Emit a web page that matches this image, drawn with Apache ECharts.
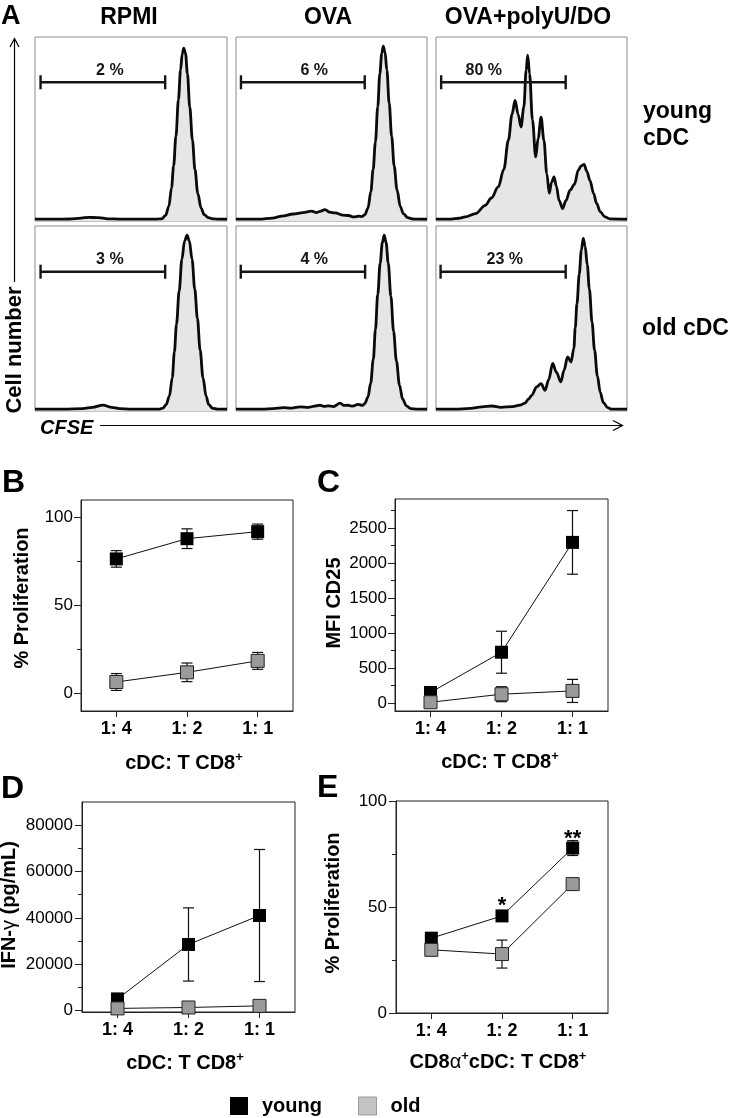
<!DOCTYPE html>
<html><head><meta charset="utf-8">
<script src="https://cdn.jsdelivr.net/npm/echarts@6/dist/echarts.min.js"></script>
<style>html,body{margin:0;padding:0;background:#fff}#c{width:730px;height:1118px}</style>
</head><body><div id="c"></div>
<script>
const FONT = '"Liberation Sans", Arial, Helvetica, sans-serif';

// ---------- Panel A: CFSE histograms (x = CFSE 0-100, y = relative cell number 0-100)
const histYoungRPMI = [[0,1],[10,1],[18,1.1],[24,1.6],[28,2],[33,1.8],[38,1.2],[45,1],[55,1],[63,1],[66,1.2],[68,3],[69.7,8],[71.1,18],[72.2,30],[73.4,46],[74.7,66],[75.8,82],[76.7,91],[77.5,94],[78.4,91],[79.4,80],[80.6,62],[82,44],[83.3,28],[84.8,15],[86.5,7],[88.1,3.5],[90.3,1.8],[92.6,1.2],[95,1],[100,1]];
const histYoungOVA = [[0,1],[12,1],[19,1.6],[24,2.6],[30,3.8],[35,4.6],[39.6,5.4],[42,4.6],[44,5.2],[46.6,6.2],[49,4.8],[52,4.4],[56,3.2],[59,3],[61.5,2.2],[64.5,2.6],[66,2.4],[67.5,3.5],[69.1,7],[70.6,16],[71.8,28],[73,43],[74.2,62],[75.3,80],[76.3,91],[77.1,95],[78,92],[79,82],[80.2,64],[81.5,46],[82.8,30],[84.3,17],[86,8],[87.6,4],[89.9,1.8],[92.7,1.1],[95,1],[100,1]];
const histYoungPolyU = [[0,1],[8,1],[12,1.5],[15.3,2.2],[20.7,4],[25.8,8.5],[29,12.5],[32.6,18.5],[35.5,28],[37.9,43.9],[39.8,58],[41.4,65.6],[43,58],[44.5,51.1],[46,62],[47.2,82],[48,90.1],[49,80],[50.5,55],[52.2,34.8],[53.5,45],[55,56.5],[56.5,44],[58,25.8],[59.3,15.2],[60.5,21],[61.8,23.9],[63,19],[64.5,11],[66.3,6.7],[68,11],[70.2,16.7],[72.5,20],[74.5,27.6],[76,30],[77.5,30.7],[79,27],[80.6,22.1],[82.5,15],[84.1,9.5],[86,5],[88.5,2.2],[91,1.2],[100,1]];
const histOldRPMI = [[0,1],[15,1],[25,1.3],[30,2],[35.4,3.2],[40,2],[44,1.3],[50,1],[60,1],[65,1],[66.7,1.6],[68.3,3.5],[70,8],[71.5,18],[72.6,32],[73.7,47],[75.1,65],[76.5,82],[77.9,92],[79.2,95],[80.4,92],[81.8,82],[83.2,66],[84.6,50],[86,33],[87.5,18],[89.1,8],[90.5,3.5],[92.4,1.5],[95,1],[100,1]];
const histOldOVA = [[0,1],[14,1],[19.4,1.3],[24.9,1.8],[29,1.6],[33.6,2.2],[38,2],[41,2.6],[44,3.1],[46,2.5],[48.4,2.8],[51,2.4],[54.5,4.3],[56.5,3],[58.6,3.1],[61,2.6],[64,3.6],[66.2,3],[67.4,4],[69.1,7.5],[70.5,15],[71.9,28],[73,44],[74.2,63],[75.5,80],[76.6,91],[77.6,95],[78.6,91],[79.7,80],[81.1,62],[82.5,43],[84,27],[85.6,14],[87.2,6.5],[89.2,2.8],[91.5,1.3],[95,1],[100,1]];
const histOldPolyU = [[0,1],[10,1],[18,1.4],[24,2.2],[29.3,2.7],[34,2],[40,2.4],[44,3.2],[46.6,4.3],[48.5,6.5],[50.1,8.5],[52.7,13],[55,14.8],[57.1,11.2],[59,17],[61.1,25.7],[63,21],[65.4,15.7],[67,22],[68.9,29.2],[70.7,26.5],[72.2,34],[72.9,45],[73.8,58],[75,74],[76.1,87],[77.1,93.3],[78.1,89],[79.2,79],[80.3,66],[81.7,48],[83,33],[84.5,19],[86,10],[87.6,4.5],[89.9,1.8],[92,1],[100,1]];

const histTitles = ['RPMI', 'OVA', 'OVA+polyU/DO'];
const gateRanges = [[2.9,67.8],[2.6,67.4],[2.7,67.9],[2.9,67.8],[2.5,67.6],[2.4,67.9]];
const gateLevels = [75.4,75.4,75.4,75.3,75.3,75.3];
const gateTexts = ['2 %','6 %','80 %','3 %','4 %','23 %'];
const gateTextX = [39,41,25,39,41,36];

// ---------- Panels B-E
const ratios = ['1: 4','1: 2','1: 1'];
const bYoung = [76.5, 88, 92];      const bYoungErr = [4.7, 5.6, 4.3];
const bOld = [6.5, 12, 18.5];       const bOldErr = [4.8, 5.3, 4.8];
const cYoung = [150, 725, 2295];    const cYoungErr = [60, 300, 455];
const cOld = [10, 125, 172];        const cOldErr = [20, 107, 165];
const dYoung = [5000, 28500, 41000];const dYoungErr = [500, 15800, 28500];
const dOld = [900, 1300, 2000];     const dOldErr = [200, 300, 400];
const eYoung = [35.3, 45.8, 77.8];  const eYoungErr = [1, 1.5, 3.5];
const eOld = [29.8, 27.8, 60.8];    const eOldErr = [1.2, 6.6, 1];
const eStars = ['', '*', '**'];

const bTicks = [0,50,100], bMinor = [25,75];
const cTicks = [0,500,1000,1500,2000,2500], cMinor = [250,750,1250,1750,2250,2750];
const dTicks = [0,20000,40000,60000,80000], dMinor = [10000,30000,50000,70000];
const eTicks = [0,50,100], eMinor = [25,75];

// ---------- layout
const hists = [histYoungRPMI, histYoungOVA, histYoungPolyU, histOldRPMI, histOldOVA, histOldPolyU];
const histCols = [{left:35,width:192},{left:236,width:191},{left:436,width:191}];
const histRows = [{top:37,height:184},{top:226,height:185}];
const panels = [
  {grid:{left:81,top:500,width:212,height:211}, min:-10, max:110, ticks:bTicks, minor:bMinor, young:bYoung, yErr:bYoungErr, old:bOld, oErr:bOldErr, lm:8},
  {grid:{left:395,top:499,width:213,height:212}, min:-115, max:2915, ticks:cTicks, minor:cMinor, young:cYoung, yErr:cYoungErr, old:cOld, oErr:cOldErr, lm:8},
  {grid:{left:82,top:802,width:213,height:210}, min:-650, max:90000, ticks:dTicks, minor:dMinor, young:dYoung, yErr:dYoungErr, old:dOld, oErr:dOldErr, lm:9},
  {grid:{left:396,top:801,width:212,height:212}, min:0, max:100, ticks:eTicks, minor:eMinor, young:eYoung, yErr:eYoungErr, old:eOld, oErr:eOldErr, lm:9, stars:eStars}
];

const grid = [], xAxis = [], yAxis = [], series = [];

hists.forEach((h, i) => {
  const r = histRows[Math.floor(i/3)], c = histCols[i%3];
  grid.push({left:c.left, top:r.top, width:c.width, height:r.height, show:true, borderColor:'#8a8a8a', borderWidth:1, backgroundColor:'transparent'});
  xAxis.push({type:'value', gridIndex:i, min:0, max:100, show:false});
  yAxis.push({type:'value', gridIndex:i, min:0, max:100, show:false});
  series.push({type:'line', xAxisIndex:i, yAxisIndex:i, data:h, symbol:'none', smooth:0.35, smoothMonotone:'x',
    lineStyle:{color:'#0a0a0a', width:2.8}, areaStyle:{color:'#e6e6e6', opacity:1}, z:2, silent:true});
  series.push({type:'custom', xAxisIndex:i, yAxisIndex:i, silent:true, z:3,
    data:[[gateRanges[i][0], gateRanges[i][1], gateLevels[i]]],
    renderItem:(params, api) => {
      const y = api.value(2);
      const p1 = api.coord([api.value(0), y]), p2 = api.coord([api.value(1), y]);
      const pl = api.coord([gateTextX[i], y]);
      const hh = 7, st = {stroke:'#151515', lineWidth:2.4};
      return {type:'group', children:[
        {type:'line', shape:{x1:p1[0],y1:p1[1],x2:p2[0],y2:p2[1]}, style:st},
        {type:'line', shape:{x1:p1[0],y1:p1[1]-hh,x2:p1[0],y2:p1[1]+hh}, style:st},
        {type:'line', shape:{x1:p2[0],y1:p2[1]-hh,x2:p2[0],y2:p2[1]+hh}, style:st},
        {type:'text', x:pl[0], y:pl[1]-12, style:{text:gateTexts[i], fill:'#151515', font:'bold 16px '+FONT, align:'center', verticalAlign:'middle'}}
      ]};
    }});
});

function errRender(params, api) {
  const x = api.value(0), v = api.value(1), e = api.value(2);
  const hi = api.coord([x, v+e]), lo = api.coord([x, v-e]);
  const w = 5.5, st = {stroke:'#111', lineWidth:1.2};
  return {type:'group', children:[
    {type:'line', shape:{x1:hi[0],y1:hi[1],x2:lo[0],y2:lo[1]}, style:st},
    {type:'line', shape:{x1:hi[0]-w,y1:hi[1],x2:hi[0]+w,y2:hi[1]}, style:st},
    {type:'line', shape:{x1:lo[0]-w,y1:lo[1],x2:lo[0]+w,y2:lo[1]}, style:st}
  ]};
}

panels.forEach((p, k) => {
  const gi = 6 + k;
  grid.push(Object.assign({show:true, borderColor:'#222', borderWidth:1, backgroundColor:'transparent'}, p.grid));
  xAxis.push({type:'category', gridIndex:gi, data:ratios, boundaryGap:true, position:'bottom',
    axisLine:{show:true, onZero:false, lineStyle:{color:'#222', width:1}},
    axisTick:{show:true, alignWithLabel:true, length:6, lineStyle:{color:'#222'}},
    axisLabel:{color:'#000', fontSize:18, fontWeight:'bold', fontFamily:FONT, margin:9},
    splitLine:{show:false}});
  yAxis.push({type:'value', gridIndex:gi, min:p.min, max:p.max, position:'left',
    axisLine:{show:true, onZero:false, lineStyle:{color:'#222', width:1}},
    axisTick:{show:true, length:7, customValues:p.ticks, lineStyle:{color:'#222'}},
    axisLabel:{color:'#000', fontSize:17, fontFamily:FONT, margin:p.lm, customValues:p.ticks, formatter:v => String(v)},
    splitLine:{show:false}});
});
panels.forEach((p, k) => {
  const gi = 6 + k;
  yAxis.push({type:'value', gridIndex:gi, min:p.min, max:p.max, position:'left', offset:0,
    axisLine:{show:false, onZero:false}, axisLabel:{show:false}, splitLine:{show:false},
    axisTick:{show:true, length:4, customValues:p.minor, lineStyle:{color:'#222'}}});
});

panels.forEach((p, k) => {
  const xi = 6 + k, yi = 6 + k;
  series.push({type:'custom', xAxisIndex:xi, yAxisIndex:yi, renderItem:errRender, silent:true, z:2,
    data:p.young.map((v,i)=>[i, v, p.yErr[i]])});
  series.push({type:'custom', xAxisIndex:xi, yAxisIndex:yi, renderItem:errRender, silent:true, z:2,
    data:p.old.map((v,i)=>[i, v, p.oErr[i]])});
  series.push({type:'line', name:'young', xAxisIndex:xi, yAxisIndex:yi, z:3, silent:true,
    symbol:'rect', symbolSize:13, showAllSymbol:true,
    itemStyle:{color:'#000'}, lineStyle:{color:'#111', width:1},
    data:p.young.map((v,i)=> p.stars && p.stars[i] ? {value:v, label:{show:true, formatter:p.stars[i], position:'top', distance:0, offset:[0,8], fontSize:22, fontWeight:'bold', color:'#000', fontFamily:FONT}} : v)});
  series.push({type:'line', name:'old', xAxisIndex:xi, yAxisIndex:yi, z:4, silent:true,
    symbol:'rect', symbolSize:13, showAllSymbol:true,
    itemStyle:{color:'#9a9a9a', borderColor:'#222', borderWidth:1}, lineStyle:{color:'#111', width:1},
    data:p.old});
});

const T = (text, x, y, size, opts={}) => Object.assign({type:'text', x, y, silent:true,
  style:Object.assign({text, fill:'#000', font:(opts.weight||'bold')+' '+size+'px '+FONT, align:opts.align||'center', verticalAlign:'middle'}, opts.style||{})},
  opts.rotation!==undefined ? {rotation:opts.rotation} : {});
const R90 = Math.PI/2;
const supRich = {a:{fontSize:20, fontWeight:'bold', fontFamily:FONT, fill:'#000', lineHeight:24},
                 s:{fontSize:13, fontWeight:'bold', fontFamily:FONT, fill:'#000', verticalAlign:'top', lineHeight:10},
                 g:{fontSize:20, fontWeight:'normal', fontFamily:FONT, fill:'#000', lineHeight:24}};
const richT = (text, x, y, rot) => Object.assign({type:'text', x, y, silent:true,
  style:{text, rich:supRich, align:'center', verticalAlign:'middle'}}, rot ? {rotation:rot} : {});

const graphic = [
  T('A', 1, 17, 27, {align:'left'}),
  T(histTitles[0], 129, 18, 23), T(histTitles[1], 328, 18, 23), T(histTitles[2], 528, 18, 23),
  T('young', 643, 112, 23, {align:'left'}), T('cDC', 643, 139, 23, {align:'left'}),
  T('old cDC', 642, 329, 23, {align:'left'}),
  T('Cell number', 15, 350, 22, {rotation:R90}),
  {type:'polyline', silent:true, shape:{points:[[14.5,282],[14.5,39]]}, style:{stroke:'#000', lineWidth:1.2, fill:null}},
  {type:'polyline', silent:true, shape:{points:[[10,47],[14.5,38.5],[19,47]]}, style:{stroke:'#000', lineWidth:1.2, fill:null}},
  T('CFSE', 40, 428, 20, {align:'left', weight:'italic bold'}),
  {type:'polyline', silent:true, shape:{points:[[100,425.5],[622,425.5]]}, style:{stroke:'#000', lineWidth:1.2, fill:null}},
  {type:'polyline', silent:true, shape:{points:[[613,420.5],[622.5,425.5],[613,430.5]]}, style:{stroke:'#000', lineWidth:1.2, fill:null}},
  T('B', 2, 483, 32, {align:'left'}), T('C', 317, 483, 32, {align:'left'}),
  T('D', 1, 789, 32, {align:'left'}), T('E', 317, 788, 32, {align:'left'}),
  T('% Proliferation', 22, 598, 20, {rotation:R90}),
  T('MFI CD25', 334, 603, 20, {rotation:R90}),
  richT('{a|IFN-}{g|γ}{a| (pg/mL)}', 9, 905, R90),
  T('% Proliferation', 333, 903, 20, {rotation:R90}),
  richT('{a|cDC: T CD8}{s|+}', 184, 763),
  richT('{a|cDC: T CD8}{s|+}', 500, 762),
  richT('{a|cDC: T CD8}{s|+}', 185, 1063),
  richT('{a|CD8}{g|α}{s|+}{a|cDC: T CD8}{s|+}', 498, 1062)
];

const chart = echarts.init(document.getElementById('c'), null, {renderer:'canvas'});
chart.setOption({
  backgroundColor:'#fff',
  animation:false,
  textStyle:{fontFamily:FONT},
  grid, xAxis, yAxis, series, graphic,
  legend:{left:230, top:1096, padding:0, itemWidth:18, itemHeight:18, itemGap:36, icon:'rect', selectedMode:false,
    data:[{name:'young', itemStyle:{color:'#000', borderWidth:0}},
          {name:'old', itemStyle:{color:'#c4c4c4', borderColor:'#9a9a9a', borderWidth:1}}],
    textStyle:{fontSize:20, fontWeight:'bold', color:'#000', fontFamily:FONT, padding:[0,0,0,9]}}
});
</script></body></html>
